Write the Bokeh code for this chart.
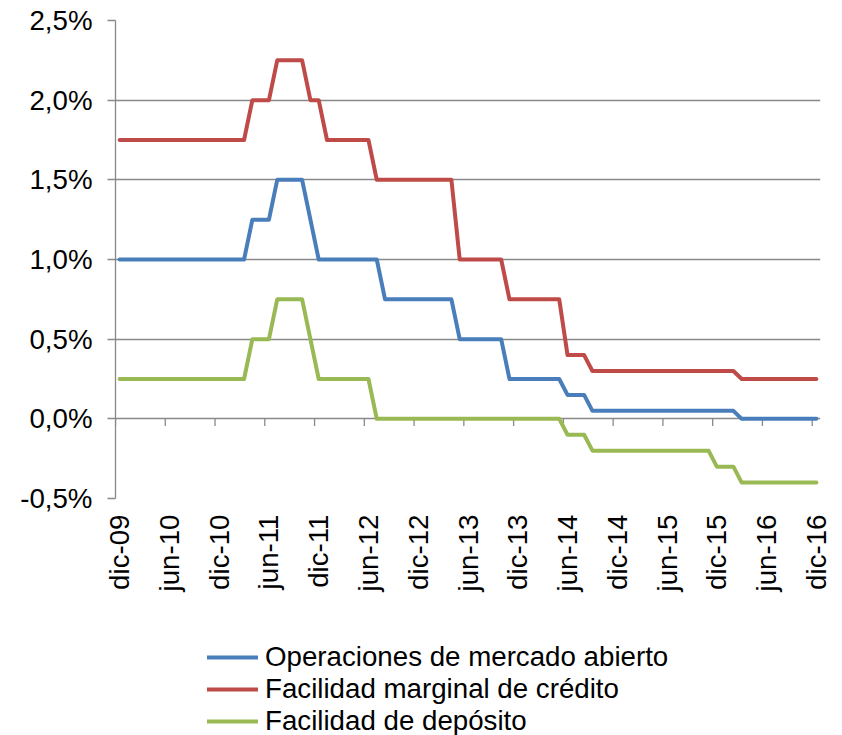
import math
from bokeh.plotting import figure
from bokeh.layouts import column
from bokeh.models import Range1d, FixedTicker, CustomJSTickFormatter, Legend, LegendItem
from bokeh.embed import file_html
from bokeh.resources import INLINE

# ---- data -------------------------------------------------------------
meses = ["ene", "feb", "mar", "abr", "may", "jun", "jul", "ago", "sep", "oct", "nov", "dic"]
months = ["dic-09"] + [f"{m}-{y:02d}" for y in range(10, 17) for m in meses]

tick_labels = ["dic-09", "jun-10", "dic-10", "jun-11", "dic-11", "jun-12", "dic-12",
               "jun-13", "dic-13", "jun-14", "dic-14", "jun-15", "dic-15", "jun-16", "dic-16"]
y_ticks = [-0.5, 0.0, 0.5, 1.0, 1.5, 2.0, 2.5]

# Operaciones de mercado abierto (dic-09 .. dic-16)
mro = [1.00,
       1.00, 1.00, 1.00, 1.00, 1.00, 1.00, 1.00, 1.00, 1.00, 1.00, 1.00, 1.00,
       1.00, 1.00, 1.00, 1.25, 1.25, 1.25, 1.50, 1.50, 1.50, 1.50, 1.25, 1.00,
       1.00, 1.00, 1.00, 1.00, 1.00, 1.00, 1.00, 0.75, 0.75, 0.75, 0.75, 0.75,
       0.75, 0.75, 0.75, 0.75, 0.50, 0.50, 0.50, 0.50, 0.50, 0.50, 0.25, 0.25,
       0.25, 0.25, 0.25, 0.25, 0.25, 0.15, 0.15, 0.15, 0.05, 0.05, 0.05, 0.05,
       0.05, 0.05, 0.05, 0.05, 0.05, 0.05, 0.05, 0.05, 0.05, 0.05, 0.05, 0.05,
       0.05, 0.05, 0.00, 0.00, 0.00, 0.00, 0.00, 0.00, 0.00, 0.00, 0.00, 0.00]

# Facilidad marginal de crédito
mlf = [1.75,
       1.75, 1.75, 1.75, 1.75, 1.75, 1.75, 1.75, 1.75, 1.75, 1.75, 1.75, 1.75,
       1.75, 1.75, 1.75, 2.00, 2.00, 2.00, 2.25, 2.25, 2.25, 2.25, 2.00, 2.00,
       1.75, 1.75, 1.75, 1.75, 1.75, 1.75, 1.50, 1.50, 1.50, 1.50, 1.50, 1.50,
       1.50, 1.50, 1.50, 1.50, 1.00, 1.00, 1.00, 1.00, 1.00, 1.00, 0.75, 0.75,
       0.75, 0.75, 0.75, 0.75, 0.75, 0.40, 0.40, 0.40, 0.30, 0.30, 0.30, 0.30,
       0.30, 0.30, 0.30, 0.30, 0.30, 0.30, 0.30, 0.30, 0.30, 0.30, 0.30, 0.30,
       0.30, 0.30, 0.25, 0.25, 0.25, 0.25, 0.25, 0.25, 0.25, 0.25, 0.25, 0.25]

# Facilidad de depósito
dep = [0.25,
       0.25, 0.25, 0.25, 0.25, 0.25, 0.25, 0.25, 0.25, 0.25, 0.25, 0.25, 0.25,
       0.25, 0.25, 0.25, 0.50, 0.50, 0.50, 0.75, 0.75, 0.75, 0.75, 0.50, 0.25,
       0.25, 0.25, 0.25, 0.25, 0.25, 0.25, 0.00, 0.00, 0.00, 0.00, 0.00, 0.00,
       0.00, 0.00, 0.00, 0.00, 0.00, 0.00, 0.00, 0.00, 0.00, 0.00, 0.00, 0.00,
       0.00, 0.00, 0.00, 0.00, 0.00, -0.10, -0.10, -0.10, -0.20, -0.20, -0.20, -0.20,
       -0.20, -0.20, -0.20, -0.20, -0.20, -0.20, -0.20, -0.20, -0.20, -0.20, -0.20, -0.30,
       -0.30, -0.30, -0.40, -0.40, -0.40, -0.40, -0.40, -0.40, -0.40, -0.40, -0.40, -0.40]

series_names = ["Operaciones de mercado abierto", "Facilidad marginal de crédito", "Facilidad de depósito"]
series_values = [mro, mlf, dep]
series_colors = ["#4A7EBB", "#BE4B48", "#98B954"]

# ---- figure -----------------------------------------------------------
FONT = "Liberation Sans"
FS = "27.7px"
GRAY = "#898989"
LINE_W = 4

x_idx = list(range(len(months)))
tick_pos = [months.index(l) for l in tick_labels]
tick_bounds = [t - 0.5 for t in tick_pos]

p = figure(width=842, height=637, output_backend="svg", toolbar_location=None,
           x_range=Range1d(-0.5, len(months) - 0.5), y_range=Range1d(y_ticks[0], y_ticks[-1]),
           min_border_left=115, min_border_right=22, min_border_top=20, min_border_bottom=139)
p.outline_line_color = None
p.background_fill_color = "white"
p.border_fill_color = "white"

p.xgrid.visible = False
p.ygrid.ticker = FixedTicker(ticks=y_ticks)
p.ygrid.grid_line_color = GRAY
p.ygrid.grid_line_width = 1.3

# y axis
p.yaxis.ticker = FixedTicker(ticks=y_ticks)
p.yaxis.formatter = CustomJSTickFormatter(code="return tick.toFixed(1).replace('.', ',') + '%';")
p.yaxis.axis_line_color = GRAY
p.yaxis.axis_line_width = 1.3
p.yaxis.major_tick_line_color = GRAY
p.yaxis.major_tick_line_width = 1.3
p.yaxis.major_tick_out = 8
p.yaxis.major_tick_in = 0
p.yaxis.minor_tick_line_color = None
p.yaxis.major_label_standoff = 15
p.yaxis.major_label_text_font = FONT
p.yaxis.major_label_text_font_size = FS
p.yaxis.major_label_text_color = "black"

# x axis (labels low, below plot area)
p.xaxis.ticker = FixedTicker(ticks=tick_pos)
p.xaxis.major_label_overrides = {pos: lab for pos, lab in zip(tick_pos, tick_labels)}
p.xaxis.major_label_orientation = math.pi / 2
p.xaxis.axis_line_color = None
p.xaxis.major_tick_line_color = None
p.xaxis.minor_tick_line_color = None
p.xaxis.major_tick_out = 0
p.xaxis.major_tick_in = 0
p.xaxis.major_label_standoff = 16
p.xaxis.major_label_text_font = FONT
p.xaxis.major_label_text_font_size = FS
p.xaxis.major_label_text_color = "black"

# horizontal category axis line crossing at 0 with tick marks between categories
p.segment(x0=tick_bounds, y0=[0.0] * len(tick_bounds), x1=tick_bounds,
          y1=[-0.045] * len(tick_bounds), line_color=GRAY, line_width=1.3)

for vals, col in zip(series_values, series_colors):
    p.line(x_idx, vals, line_color=col, line_width=LINE_W, line_join="round", line_cap="round")

# ---- legend strip below the chart --------------------------------------
lg = figure(width=842, height=98, output_backend="svg", toolbar_location=None,
            x_range=Range1d(0, 1), y_range=Range1d(0, 1),
            x_axis_location=None, y_axis_location=None, min_border=0)
lg.outline_line_color = None
lg.xgrid.visible = False
lg.ygrid.visible = False
lg.background_fill_color = "white"
lg.border_fill_color = "white"

# legend-only renderers (no visible points; they carry the line style for the legend keys)
leg_renderers = []
for col in series_colors:
    r = lg.line(x=[math.nan], y=[math.nan], line_color=col, line_width=LINE_W, line_cap="round")
    leg_renderers.append(r)

legend = Legend(items=[LegendItem(label=n, renderers=[r]) for n, r in zip(series_names, leg_renderers)],
                location=(92, -2), orientation="vertical",
                glyph_width=51, glyph_height=30, label_height=30, label_width=10,
                spacing=0, padding=0, margin=0, label_standoff=7,
                border_line_color=None, background_fill_alpha=0,
                label_text_font=FONT, label_text_font_size=FS, label_text_color="black",
                label_text_baseline="middle")
lg.add_layout(legend)

layout = column(p, lg, spacing=0)
open("out.html", "w").write(file_html(layout, INLINE))
